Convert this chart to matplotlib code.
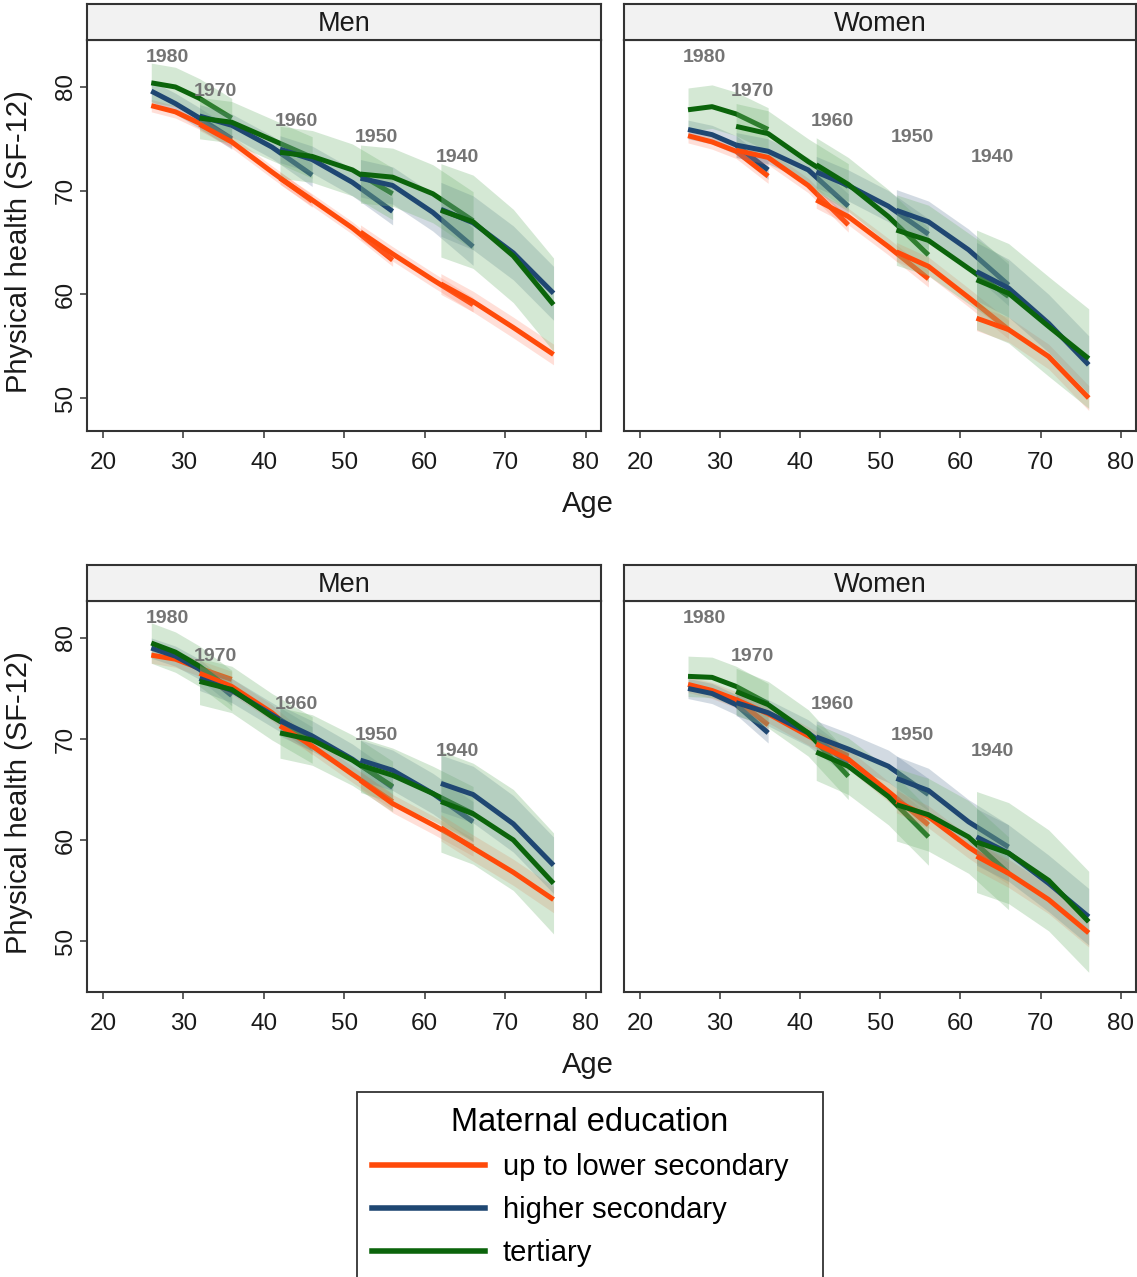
import matplotlib
matplotlib.use("Agg")
import matplotlib.pyplot as plt
from matplotlib.lines import Line2D
import numpy as np

plt.rcParams['font.family'] = ['Liberation Sans', 'DejaVu Sans']

# cohorts and the ages each one is observed at
COHORTS = ["1980", "1970", "1960", "1950", "1940"]
COHORT_AGES = [[26, 29, 32, 36],
               [32, 36, 41, 46],
               [42, 46, 51, 56],
               [52, 56, 61, 66],
               [62, 66, 71, 76]]
LABEL_AGES = [28, 34, 44, 54, 64]
top_label_y = [82.8, 79.6, 76.7, 75.1, 73.2]
bottom_label_y = [81.9, 78.2, 73.4, 70.3, 68.8]

EDU = ["lower", "higher", "tertiary"]
EDU_NAMES = ["up to lower secondary", "higher secondary", "tertiary"]

# top row, men
top_men = {
    "lower": [[78.2, 77.6, 76.5, 74.8], [76.4, 74.7, 71.8, 69.0], [71.2, 69.1, 66.4, 63.3],
              [66.0, 63.9, 61.4, 59.0], [61.0, 59.3, 56.8, 54.2]],
    "higher": [[79.6, 78.4, 77.0, 75.0], [77.2, 76.3, 74.2, 71.5], [74.0, 73.0, 70.8, 68.0],
               [71.2, 70.5, 67.9, 64.6], [68.2, 66.9, 64.0, 60.1]],
    "tertiary": [[80.4, 80.0, 78.9, 77.0], [77.0, 76.6, 74.9, 73.2], [73.7, 73.3, 72.0, 69.7],
                 [71.6, 71.3, 69.7, 67.1], [68.1, 67.0, 63.7, 59.0]],
}
ci_top_men = {"lower": [0.6, 0.6, 0.6, 0.7, 1.0],
              "higher": [1.0, 1.1, 1.3, 1.8, 2.6],
              "tertiary": [1.9, 2.0, 2.5, 2.8, 4.5]}

# top row, women
top_women = {
    "lower": [[75.3, 74.7, 73.8, 71.4], [73.9, 73.2, 70.5, 66.7], [69.1, 67.5, 64.6, 61.5],
              [64.1, 62.7, 59.7, 56.6], [57.7, 56.6, 54.0, 50.0]],
    "higher": [[75.9, 75.4, 74.4, 72.0], [74.4, 73.8, 72.0, 68.5], [71.8, 70.5, 68.5, 65.8],
               [68.1, 67.0, 64.3, 60.9], [62.2, 60.6, 57.2, 53.2]],
    "tertiary": [[77.8, 78.1, 77.4, 75.9], [76.2, 75.5, 72.8, 70.4], [72.5, 70.6, 67.5, 63.8],
                 [66.2, 65.2, 62.5, 59.8], [61.4, 60.1, 56.9, 53.8]],
}
ci_top_women = {"lower": [0.7, 0.7, 0.8, 0.9, 1.2],
                "higher": [0.9, 1.2, 1.5, 2.0, 2.8],
                "tertiary": [2.1, 2.2, 2.6, 3.4, 4.8]}

# bottom row, men
bottom_men = {
    "lower": [[78.3, 77.9, 77.0, 75.9], [76.5, 75.2, 72.6, 69.2], [71.3, 69.3, 66.5, 63.8],
              [65.9, 63.6, 61.5, 59.3], [61.2, 59.2, 56.8, 54.1]],
    "higher": [[79.0, 78.2, 76.9, 74.3], [76.0, 74.8, 72.4, 70.0], [71.8, 70.3, 68.0, 65.2],
               [67.9, 66.9, 64.6, 61.8], [65.6, 64.5, 61.6, 57.5]],
    "tertiary": [[79.5, 78.6, 77.2, 74.8], [75.7, 74.9, 72.2, 69.9], [70.6, 69.9, 67.9, 65.3],
                 [67.4, 66.4, 64.6, 62.6], [63.8, 62.6, 60.0, 55.7]],
}
ci_bottom_men = {"lower": [0.8, 0.8, 0.8, 0.9, 1.3],
                 "higher": [1.0, 1.2, 1.5, 2.0, 2.8],
                 "tertiary": [2.0, 2.3, 2.5, 2.7, 5.0]}

# bottom row, women
bottom_women = {
    "lower": [[75.4, 74.8, 73.9, 71.4], [73.9, 72.5, 70.3, 68.3], [69.5, 68.0, 64.8, 61.5],
              [63.8, 62.3, 59.3, 56.7], [58.4, 56.7, 54.1, 50.8]],
    "higher": [[75.0, 74.5, 73.4, 70.6], [73.6, 72.6, 70.6, 67.6], [70.2, 69.0, 67.3, 64.5],
               [66.1, 64.9, 61.8, 59.3], [60.3, 58.7, 55.7, 52.4]],
    "tertiary": [[76.2, 76.1, 75.2, 73.5], [74.7, 73.4, 70.6, 66.3], [68.7, 67.3, 64.3, 60.3],
                 [63.5, 62.5, 60.3, 56.7], [59.8, 58.7, 56.0, 51.9]],
}
ci_bottom_women = {"lower": [0.8, 0.9, 1.0, 1.1, 1.4],
                   "higher": [1.0, 1.3, 1.6, 2.2, 2.8],
                   "tertiary": [2.0, 2.3, 2.8, 3.6, 5.0]}

LINE_COLORS = {"lower": "#ff4a0a", "higher": "#1f4772", "tertiary": "#0b640b"}
BAND_COLORS = {"lower": "#ff7050", "higher": "#4f6f8f", "tertiary": "#7ab87a"}
BAND_ALPHA = {"lower": 0.22, "higher": 0.25, "tertiary": 0.32}
FRAME = "#333333"

W, H = 1137, 1277
fig = plt.figure(figsize=(W / 100, H / 100), dpi=100)


def px_box(x0, y0, x1, y1):
    return [x0 / W, 1 - y1 / H, (x1 - x0) / W, (y1 - y0) / H]


def draw_panel(box, series, ci, label_y, ylim, title, left):
    ax = fig.add_axes(px_box(*box))
    z = 1
    for i, cohort in enumerate(COHORTS):
        ages = COHORT_AGES[i]
        for edu in EDU:
            y = np.array(series[edu][i])
            h = ci[edu][i]
            ax.fill_between(ages, y - h, y + h, color=BAND_COLORS[edu],
                            alpha=BAND_ALPHA[edu], lw=0, zorder=z)
            z += 1
        for edu in EDU:
            ax.plot(ages, series[edu][i], color=LINE_COLORS[edu], lw=3.6,
                    solid_capstyle="butt", solid_joinstyle="round", zorder=z)
            z += 1
        ax.text(LABEL_AGES[i], label_y[i], cohort, ha="center", va="center",
                fontsize=14, color="#747474", fontweight="bold", zorder=200)
    ax.set_xlim(17.95, 81.9)
    ax.set_ylim(*ylim)
    ax.set_xticks([20, 30, 40, 50, 60, 70, 80])
    ax.set_yticks([50, 60, 70, 80])
    ax.tick_params(axis="x", length=5, width=1.1, color=FRAME, labelsize=17.5,
                   pad=10, labelcolor="#1a1a1a")
    if left:
        ax.tick_params(axis="y", length=5, width=1.1, color=FRAME, labelsize=17.5,
                       pad=2, labelcolor="#1a1a1a")
        for lab in ax.get_yticklabels():
            lab.set_rotation(90)
            lab.set_va("center")
    else:
        ax.tick_params(axis="y", left=False, labelleft=False)
    for sp in ax.spines.values():
        sp.set_color(FRAME)
        sp.set_linewidth(1.5)

    x0, y0, x1, y1 = box
    strip = fig.add_axes(px_box(x0, y0 - 36, x1, y0))
    strip.set_facecolor("#f2f2f2")
    strip.set_xticks([])
    strip.set_yticks([])
    for sp in strip.spines.values():
        sp.set_color(FRAME)
        sp.set_linewidth(1.5)
    strip.text(0.5, 0.45, title, ha="center", va="center", fontsize=19.5,
               color="#1a1a1a", transform=strip.transAxes)
    return ax


draw_panel((86.5, 40, 601, 431), top_men, ci_top_men, top_label_y, (46.82, 84.53), "Men", True)
draw_panel((623.5, 40, 1136, 431), top_women, ci_top_women, top_label_y, (46.82, 84.53), "Women", False)
draw_panel((86.5, 601, 601, 992), bottom_men, ci_bottom_men, bottom_label_y, (44.95, 83.66), "Men", True)
draw_panel((623.5, 601, 1136, 992), bottom_women, ci_bottom_women, bottom_label_y, (44.95, 83.66), "Women", False)

for yc in [242, 803]:
    fig.text(19 / W, 1 - yc / H, "Physical health (SF-12)", rotation=90,
             ha="center", va="center", fontsize=21, color="#1a1a1a")
for yc in [504, 1065]:
    fig.text(588 / W, 1 - yc / H, "Age", ha="center", va="center",
             fontsize=21, color="#1a1a1a")

handles = [Line2D([0], [0], color=LINE_COLORS[e], lw=4) for e in EDU]
leg = fig.legend(handles, EDU_NAMES, loc="lower left", mode="expand",
                 bbox_to_anchor=(357 / W, -5 / H, 466 / W, 0.2),
                 title="Maternal education", fontsize=21, title_fontsize=23.5,
                 handlelength=3.9, handletextpad=0.6, labelspacing=0.52,
                 borderpad=0.5, borderaxespad=0, fancybox=False, framealpha=1,
                 edgecolor=FRAME)
leg.get_frame().set_linewidth(1.3)

fig.savefig("out.png", dpi=100)
